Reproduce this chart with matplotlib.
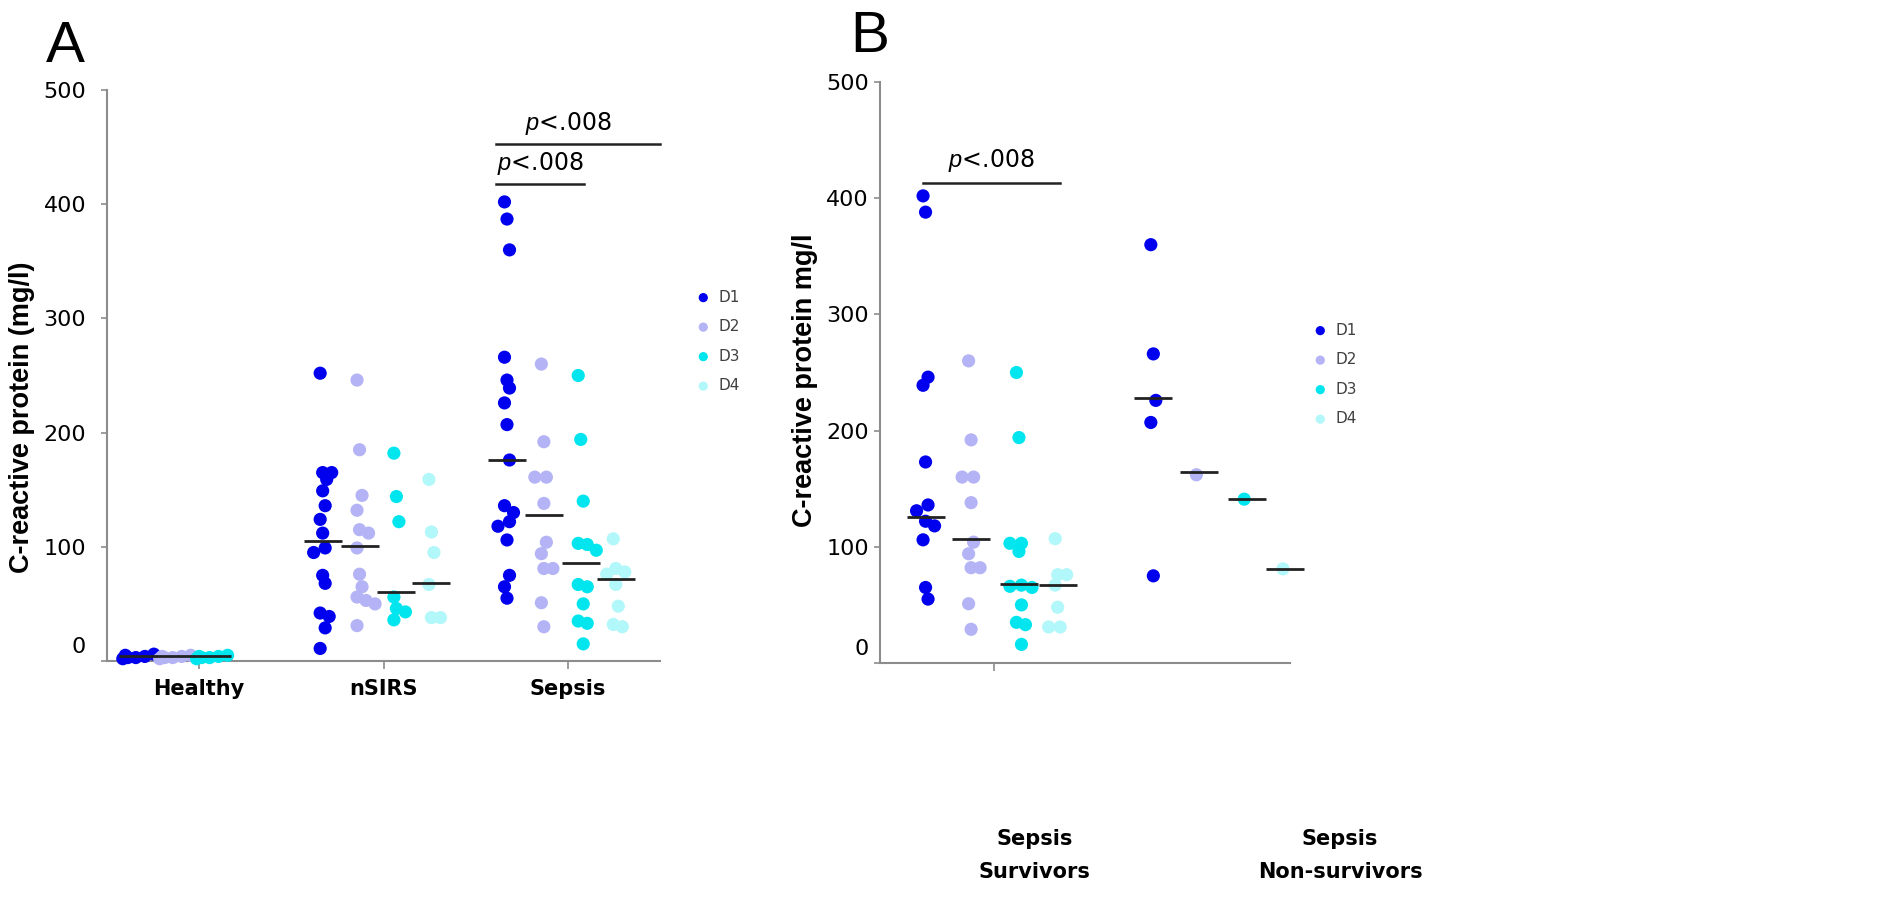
import matplotlib
matplotlib.use('Agg')
import matplotlib.pyplot as plt
import numpy as np

plt.rcParams['font.family'] = ['DejaVu Sans']
plt.rcParams['mathtext.fontset'] = 'custom'
plt.rcParams['mathtext.rm'] = 'Liberation Sans'
plt.rcParams['mathtext.it'] = 'Liberation Sans:italic'

# データ (CRP mg/l)
days = ['D1', 'D2', 'D3', 'D4']
day_colors = ['#0000EE', '#B3B3F5', '#00E5EE', '#B2F7F9']

groups_a = ['Healthy', 'nSIRS', 'Sepsis']
healthy_d1 = [3, 4, 6, 2, 5, 3]
healthy_d2 = [3, 4, 5, 2, 4, 3]
healthy_d3 = [3, 4, 5, 2, 4, 3]
healthy_medians = [4, 4, 4]

nsirs_d1 = [252, 165, 165, 159, 149, 136, 124, 112, 99, 95, 75, 68, 42, 39, 29, 11]
nsirs_d2 = [246, 185, 145, 132, 115, 112, 99, 76, 65, 56, 53, 50, 31]
nsirs_d3 = [182, 144, 122, 56, 46, 43, 36]
nsirs_d4 = [159, 113, 95, 67, 38, 38]
nsirs_medians = [105, 101, 60, 68]

sepsis_d1 = [402, 387, 360, 266, 246, 239, 226, 207, 176, 136, 130, 122, 118, 106, 75, 65, 55]
sepsis_d2 = [260, 192, 161, 161, 138, 104, 94, 81, 81, 51, 30]
sepsis_d3 = [250, 194, 140, 103, 102, 97, 67, 65, 50, 35, 33, 15]
sepsis_d4 = [107, 81, 78, 76, 67, 48, 32, 30]
sepsis_medians = [176, 128, 86, 72]

groups_b = ['Sepsis\nSurvivors', 'Sepsis\nNon-survivors']
surv_d1 = [402, 388, 246, 239, 173, 136, 131, 122, 118, 106, 65, 55]
surv_d2 = [260, 192, 160, 160, 138, 104, 94, 82, 82, 51, 29]
surv_d3 = [250, 194, 103, 103, 96, 67, 66, 65, 50, 35, 33, 16]
surv_d4 = [107, 76, 76, 67, 48, 31, 31]
surv_medians = [126, 107, 68, 67]

nonsurv_d1 = [360, 266, 226, 207, 75]
nonsurv_d2 = [162]
nonsurv_d3 = [141]
nonsurv_d4 = [81]
nonsurv_medians = [228, 164, 141, 81]

panel_a = [[healthy_d1, healthy_d2, healthy_d3],
           [nsirs_d1, nsirs_d2, nsirs_d3, nsirs_d4],
           [sepsis_d1, sepsis_d2, sepsis_d3, sepsis_d4]]
medians_a = [healthy_medians, nsirs_medians, sepsis_medians]
panel_b = [[surv_d1, surv_d2, surv_d3, surv_d4],
           [nonsurv_d1, nonsurv_d2, nonsurv_d3, nonsurv_d4]]
medians_b = [surv_medians, nonsurv_medians]


def swarm(vals, center, px_x, px_y, diam=13):
    # 重なりを少し避けるためのずらし(乱数は使わない)
    placed = []
    xs = []
    for i, v in enumerate(vals):
        y = v * px_y
        base = ((i % 3) - 1) * 2.5
        for k in [0, 1, -1, 2, -2]:
            dx = base + k * diam * 0.5
            if all((dx - a) ** 2 + (y - b) ** 2 >= (diam * 0.6) ** 2 for a, b in placed):
                break
        placed.append((dx, y))
        xs.append(center + dx / px_x)
    return xs


def draw_panel(ax, data, medians, offsets, px_x, px_y):
    for gi, grp in enumerate(data):
        for di, vals in enumerate(grp):
            cx = gi + 1 + offsets[di]
            xs = swarm(vals, cx, px_x, px_y)
            ax.scatter(xs, vals, s=90, color=day_colors[di], edgecolors='none',
                       zorder=3, label=days[di] if gi == len(data) - 1 else None,
                       clip_on=False)
            ax.plot([cx], [medians[gi][di]], marker='_', ms=27, mew=2,
                    color='#222222', zorder=4, clip_on=False)


def style_axis(ax, pad):
    ax.set_ylim(0, 500)
    ax.set_yticks(range(0, 501, 100))
    ax.set_yticklabels([''] + [str(v) for v in range(100, 501, 100)])
    ax.annotate('0', xy=(0, 0), xycoords=('axes fraction', 'data'),
                xytext=(-(pad + 4), 10), textcoords='offset points',
                ha='right', va='center', fontsize=16)
    for s in ['top', 'right']:
        ax.spines[s].set_visible(False)
    for s in ['left', 'bottom']:
        ax.spines[s].set_color('#8c8c8c')
        ax.spines[s].set_linewidth(1.5)
    ax.tick_params(axis='y', length=4, width=1.2, color='#8c8c8c', pad=pad,
                   labelsize=16)
    ax.tick_params(axis='x', length=6, width=1.2, color='#8c8c8c', pad=7)


fig = plt.figure(figsize=(19.01, 9.11), dpi=100)

# パネルA
ax1 = fig.add_axes([107 / 1901, 1 - 661 / 911, 553 / 1901, 571 / 911])
draw_panel(ax1, panel_a, medians_a, [-0.33, -0.13, 0.07, 0.26], 184, 1.142)
ax1.set_xlim(0.5, 3.5)
style_axis(ax1, 11)
ax1.set_xticks([1, 2, 3])
ax1.set_xticklabels(groups_a, fontsize=15, fontweight='bold')

ax1.plot([2.61, 3.5], [453, 453], color='#222222', lw=1.8, clip_on=False)
ax1.plot([2.61, 3.09], [418, 418], color='#222222', lw=1.8, clip_on=False)
ax1.text(3.0, 459, r'$\mathit{p}$<.008', ha='center', va='bottom', fontsize=17)
ax1.text(2.85, 424, r'$\mathit{p}$<.008', ha='center', va='bottom', fontsize=17)
ax1.legend(loc='upper left', bbox_to_anchor=(688 / 1901, 1 - 282 / 911),
           bbox_transform=fig.transFigure, frameon=False, fontsize=11,
           markerscale=0.7, handlelength=1.0, handletextpad=0.5,
           labelspacing=0.95, borderpad=0, labelcolor='#404040')

# パネルB
ax2 = fig.add_axes([880 / 1901, 1 - 663 / 911, 410 / 1901, 581 / 911])
draw_panel(ax2, panel_b, medians_b, [-0.3, -0.1, 0.11, 0.28], 228, 1.162)
ax2.set_xlim(0.5, 2.3)
style_axis(ax2, 4)
ax2.set_xticks([1])
ax2.set_xticklabels([''])
ax2.text(1.18, -0.285, groups_b[0], transform=ax2.get_xaxis_transform(),
         ha='center', va='top', fontsize=15, fontweight='bold', linespacing=1.85)
ax2.text(2.52, -0.285, groups_b[1], transform=ax2.get_xaxis_transform(),
         ha='center', va='top', fontsize=15, fontweight='bold', linespacing=1.85)

ax2.plot([0.69, 1.29], [413, 413], color='#222222', lw=1.8, clip_on=False)
ax2.text(0.99, 421, r'$\mathit{p}$<.008', ha='center', va='bottom', fontsize=17)
ax2.legend(loc='upper left', bbox_to_anchor=(1305 / 1901, 1 - 315 / 911),
           bbox_transform=fig.transFigure, frameon=False, fontsize=11,
           markerscale=0.7, handlelength=1.0, handletextpad=0.5,
           labelspacing=0.95, borderpad=0, labelcolor='#404040')

# 軸タイトルとパネル記号
ylab_font = ['Liberation Sans Narrow', 'Liberation Sans', 'DejaVu Sans']
fig.text(22 / 1901, 1 - 417 / 911, 'C-reactive protein (mg/l)', rotation=90,
         ha='center', va='center', fontsize=19.5, fontweight='bold', family=ylab_font)
fig.text(805 / 1901, 1 - 380 / 911, 'C-reactive protein mg/l', rotation=90,
         ha='center', va='center', fontsize=19.5, fontweight='bold', family=ylab_font)
fig.text(65 / 1901, 1 - 62 / 911, 'A', ha='center', va='baseline', fontsize=42,
         family=['Liberation Sans'])
fig.text(870 / 1901, 1 - 52 / 911, 'B', ha='center', va='baseline', fontsize=42,
         family=['Liberation Sans'])

fig.savefig('out.png', dpi=100)
